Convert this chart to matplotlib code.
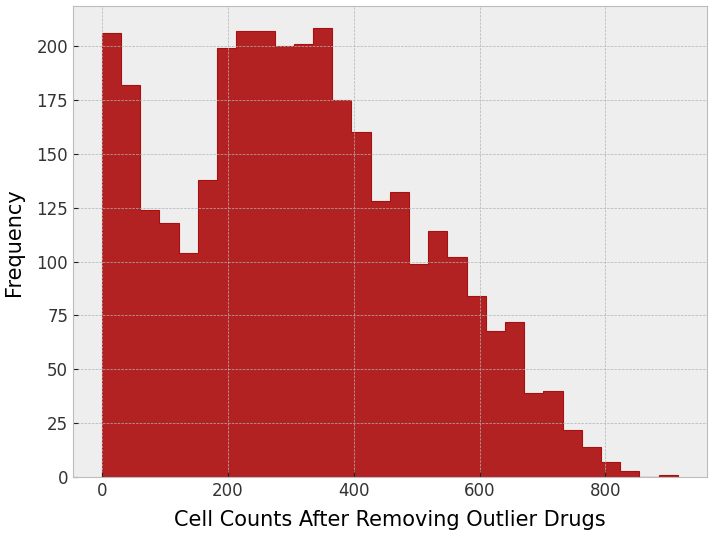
import numpy as np
import matplotlib
matplotlib.use('Agg')
import matplotlib.pyplot as plt

bin_edges = np.linspace(0, 915, 31)
counts = [206, 182, 124, 118, 104, 138, 199, 207, 207, 200,
          201, 208, 175, 160, 128, 132, 99, 114, 102, 84,
          68, 72, 39, 40, 22, 14, 7, 3, 0, 1]

bin_centers = (bin_edges[:-1] + bin_edges[1:]) / 2

plt.style.use('bmh')
fig = plt.figure(figsize=(7.14, 5.37), dpi=100)
ax = fig.add_subplot(111)
ax.hist(bin_centers, bins=bin_edges, weights=counts, histtype='stepfilled',
        facecolor='firebrick', edgecolor='#a81010', linewidth=0.8)
ax.set_xlabel('Cell Counts After Removing Outlier Drugs', fontsize=15, labelpad=7)
ax.set_ylabel('Frequency', fontsize=15, labelpad=9)
ax.tick_params(labelsize=12, colors='#222222', labelcolor='#333333')
fig.subplots_adjust(left=73/714, right=706.7/714, top=1-6/537, bottom=1-477.3/537)
fig.savefig('out.png', dpi=100)
